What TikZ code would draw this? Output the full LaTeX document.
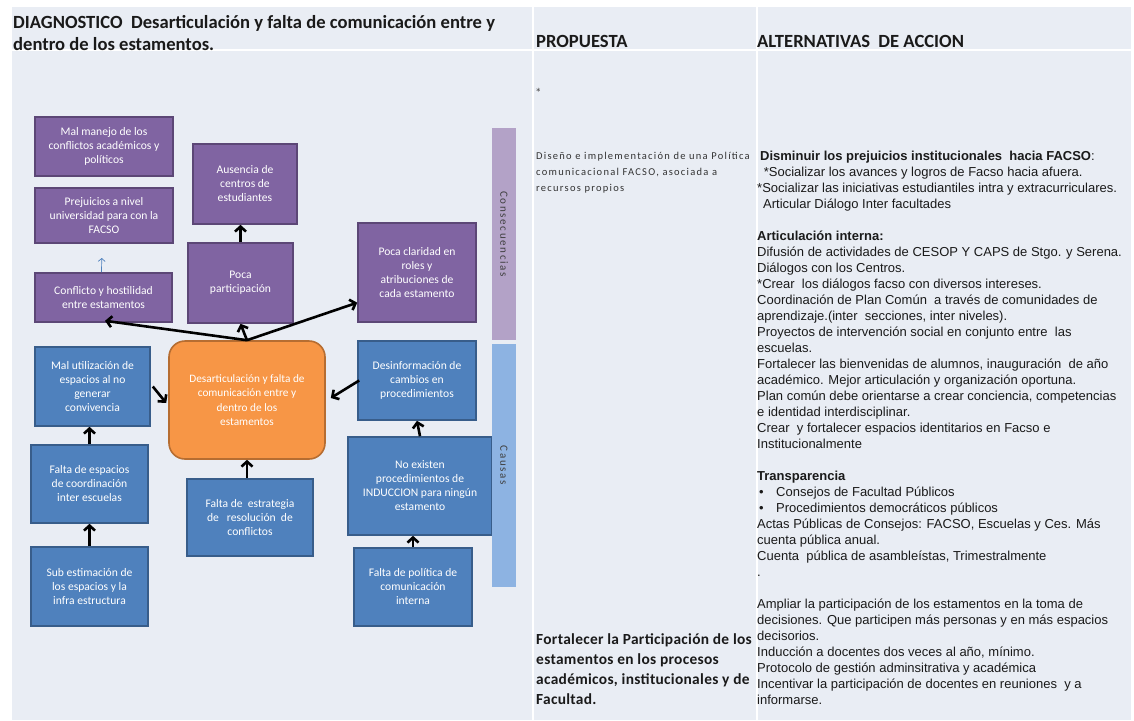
\documentclass[tikz,border=0pt]{standalone}
\usepackage{fontspec}
\setmainfont{Carlito}
\newfontfamily\arialf{Liberation Sans}
\newfontfamily\spacedf{Carlito}[LetterSpace=15]
\newfontfamily\lightf{Carlito}[LetterSpace=12]
\newfontfamily\boldwf{Carlito}[LetterSpace=2]
\usetikzlibrary{arrows.meta,calc}
\definecolor{bgc}{HTML}{E9EDF4}
\definecolor{purf}{HTML}{8064A2}
\definecolor{purd}{HTML}{5C4776}
\definecolor{bluf}{HTML}{4F81BD}
\definecolor{blud}{HTML}{385D8A}
\definecolor{orf}{HTML}{F79646}
\definecolor{ord}{HTML}{B66D31}
\definecolor{conb}{HTML}{B3A2C7}
\definecolor{caub}{HTML}{8DB3E2}
\definecolor{txt}{HTML}{1A1A1A}
\begin{document}
\begin{tikzpicture}[x=1pt,y=-1pt,
  boxbase/.style={line width=1.6pt, text=white, align=center, inner sep=2pt,
    font=\fontsize{11.6}{14}\selectfont},
  pbox/.style={boxbase, draw=purd, fill=purf},
  bbox/.style={boxbase, draw=blud, fill=bluf},
  cbox/.style={boxbase, draw=ord, fill=orf, rounded corners=16pt, font=\fontsize{11.3}{14.5}\selectfont},
  bar/.style={rotate=-90, inner sep=0, text=black!75, font=\spacedf\fontsize{11}{13}\selectfont},
  arr/.style={line width=2.6pt, -{Straight Barb[length=5pt,width=11pt,line width=2.6pt]}},
  thinarr/.style={draw=bluf, line width=0.7pt, -{Straight Barb[length=3pt,width=7pt]}},
  hdr/.style={inner sep=0, text=txt, font=\bfseries\fontsize{18.6}{21.5}\selectfont},
  sep/.style={draw=white, line width=2pt}
]
\useasboundingbox (0,0) rectangle (1134,720);
\fill[white] (0,0) rectangle (1134,720);
\fill[bgc] (12,7) rectangle (1131,720);
\draw[sep] (12,50) -- (1131,50);
\draw[sep] (533,7) -- (533,720);
\draw[sep] (757,7) -- (757,720);

% header
\node[hdr, anchor=north west, align=left] (h1) at (13,15.5)
  {DIAGNOSTICO\ \ Desarticulación y falta de comunicación entre y\\dentro de los estamentos.};
\node[hdr, anchor=west] (h2) at (536,41) {PROPUESTA};
\node[hdr, anchor=west] (h3) at (757,41) {ALTERNATIVAS\ \ DE ACCION};

% consequence boxes
\node[pbox, minimum width=138pt, minimum height=59pt] (mm) at (104,146.5) {Mal manejo de los\\conflictos académicos y\\políticos};
\node[pbox, minimum width=138pt, minimum height=55pt] (pj) at (104,215.5) {Prejuicios a nivel\\universidad para con la\\FACSO};
\node[pbox, minimum width=137pt, minimum height=49pt] (ch) at (103.5,297.5) {Conflicto y hostilidad\\entre estamentos};
\node[pbox, minimum width=104pt, minimum height=80pt] (au) at (245,184) {Ausencia de\\centros de\\estudiantes};
\node[pbox, minimum width=105pt, minimum height=80pt] (pp) at (240.5,283) {Poca\\participación};
\node[pbox, minimum width=118pt, minimum height=99pt] (pc) at (417,272.5) {Poca claridad en\\roles y\\atribuciones de\\cada estamento};

% center
\node[cbox, minimum width=156pt, minimum height=118pt] (ce) at (247,400) {Desarticulación y falta de\\comunicación entre y\\dentro de los\\estamentos};

% cause boxes
\node[bbox, minimum width=115pt, minimum height=79pt] (mu) at (92.5,386.5) {Mal utilización de\\espacios al no\\generar\\convivencia};
\node[bbox, minimum width=117pt, minimum height=78pt] (fe) at (89.5,484) {Falta de espacios\\de coordinación\\inter escuelas};
\node[bbox, minimum width=117pt, minimum height=79pt] (se) at (89.5,586.5) {Sub estimación de\\los espacios y la\\infra estructura};
\node[bbox, minimum width=126pt, minimum height=77pt] (fr) at (250,517.5) {Falta de\ \ estrategia\\de\ \ \ resolución\ \ de\\conflictos};
\node[bbox, minimum width=118pt, minimum height=79pt] (di) at (417,380.5) {Desinformación de\\cambios en\\procedimientos};
\node[bbox, minimum width=144pt, minimum height=98pt] (ne) at (420,486) {No existen\\procedimientos de\\INDUCCION para ningún\\estamento};
\node[bbox, minimum width=118pt, minimum height=78pt] (fp) at (413,587) {Falta de política de\\comunicación\\interna};

% side bars
\node[bar, fill=conb, minimum width=212pt, minimum height=24pt] (cb) at (504,234) {Consecuencias};
\node[bar, fill=caub, minimum width=243pt, minimum height=24pt] (cab) at (504,465.5) {Causas};

% arrows
\draw[arr] (ce.north) -- ($(ch.south)+(1.5,-2)$);
\draw[arr] (ce.north) -- (pp.south);
\draw[arr] (ce.north) -- ($(pc.south west)!0.2!(pc.north west)$);
\draw[arr] ($(mu.east)+(2,0)$) -- ($(ce.west)+(-2,3)$);
\draw[arr] ($(di.west)+(2,0)$) -- ($(ce.east)+(5,-2)$);
\draw[arr] (fe.north) -- (fe.north |- mu.south);
\draw[arr] (se.north) -- (se.north |- fe.south);
\draw[arr] (ce.south |- fr.north) -- (ce.south);
\draw[arr] (ne.north) -- (di.south);
\draw[arr] (fp.north) -- (fp.north |- ne.south);
\draw[arr] (pp.north) -- (pp.north |- au.south);
\coordinate (tb) at ($(ch.north)!0.5!(pj.south)+(-2,0)$);
\draw[thinarr] ($(ch.north)+(-2,0)$) -- (tb);

% propuesta column
\node[anchor=west, inner sep=0, text=black!70, font=\fontsize{13}{14}\selectfont] (st) at (535,93) {*};
\node[anchor=north west, inner sep=0, align=left, text=black!80, font=\lightf\fontsize{10.5}{16}\selectfont] (dp) at (536,152)
  {Diseño e implementación de una Política\\comunicacional FACSO, asociada a\\recursos propios};
\node[anchor=north west, inner sep=0, align=left, text=txt, font=\boldwf\bfseries\fontsize{15.4}{20.2}\selectfont] (fp2) at (536,633)
  {Fortalecer la Participación de los\\estamentos en los procesos\\académicos, institucionales y de\\Facultad.};

% alternativas column
\node[anchor=north west, inner sep=0, align=left, text=txt, font=\arialf\fontsize{13}{16}\selectfont] (alt) at (757,151)
  {\hspace{3pt}\textbf{Disminuir los prejuicios institucionales\ \ hacia FACSO}:\\
   \hspace{3pt} *Socializar los avances y logros de Facso hacia afuera.\\
   *Socializar las iniciativas estudiantiles intra y extracurriculares.\\
   \hspace{6pt}Articular Diálogo Inter facultades\\[16pt]
   \textbf{Articulación interna:}\\
   Difusión de actividades de CESOP Y CAPS de Stgo. y Serena.\\
   Diálogos con los Centros.\\
   *Crear\ \ los diálogos facso con diversos intereses.\\
   Coordinación de Plan Común\ \ a través de comunidades de\\
   aprendizaje.(inter\ \ secciones, inter niveles).\\
   Proyectos de intervención social en conjunto entre\ \ las\\
   escuelas.\\
   Fortalecer las bienvenidas de alumnos, inauguración\ \ de año\\
   académico. Mejor articulación y organización oportuna.\\
   Plan común debe orientarse a crear conciencia, competencias\\
   e identidad interdisciplinar.\\
   Crear\ \ y fortalecer espacios identitarios en Facso e\\
   Institucionalmente\\[16pt]
   \textbf{Transparencia}\\
   \hspace{2pt}\makebox[17pt][l]{•}Consejos de Facultad Públicos\\
   \hspace{2pt}\makebox[17pt][l]{•}Procedimientos democráticos públicos\\
   Actas Públicas de Consejos: FACSO, Escuelas y Ces. Más\\
   cuenta pública anual.\\
   Cuenta\ \ pública de asambleístas, Trimestralmente\\
   .\\[16pt]
   Ampliar la participación de los estamentos en la toma de\\
   decisiones. Que participen más personas y en más espacios\\
   decisorios.\\
   Inducción a docentes dos veces al año, mínimo.\\
   Protocolo de gestión adminsitrativa y académica\\
   Incentivar la participación de docentes en reuniones\ \ y a\\
   informarse.};
\end{tikzpicture}
\end{document}
